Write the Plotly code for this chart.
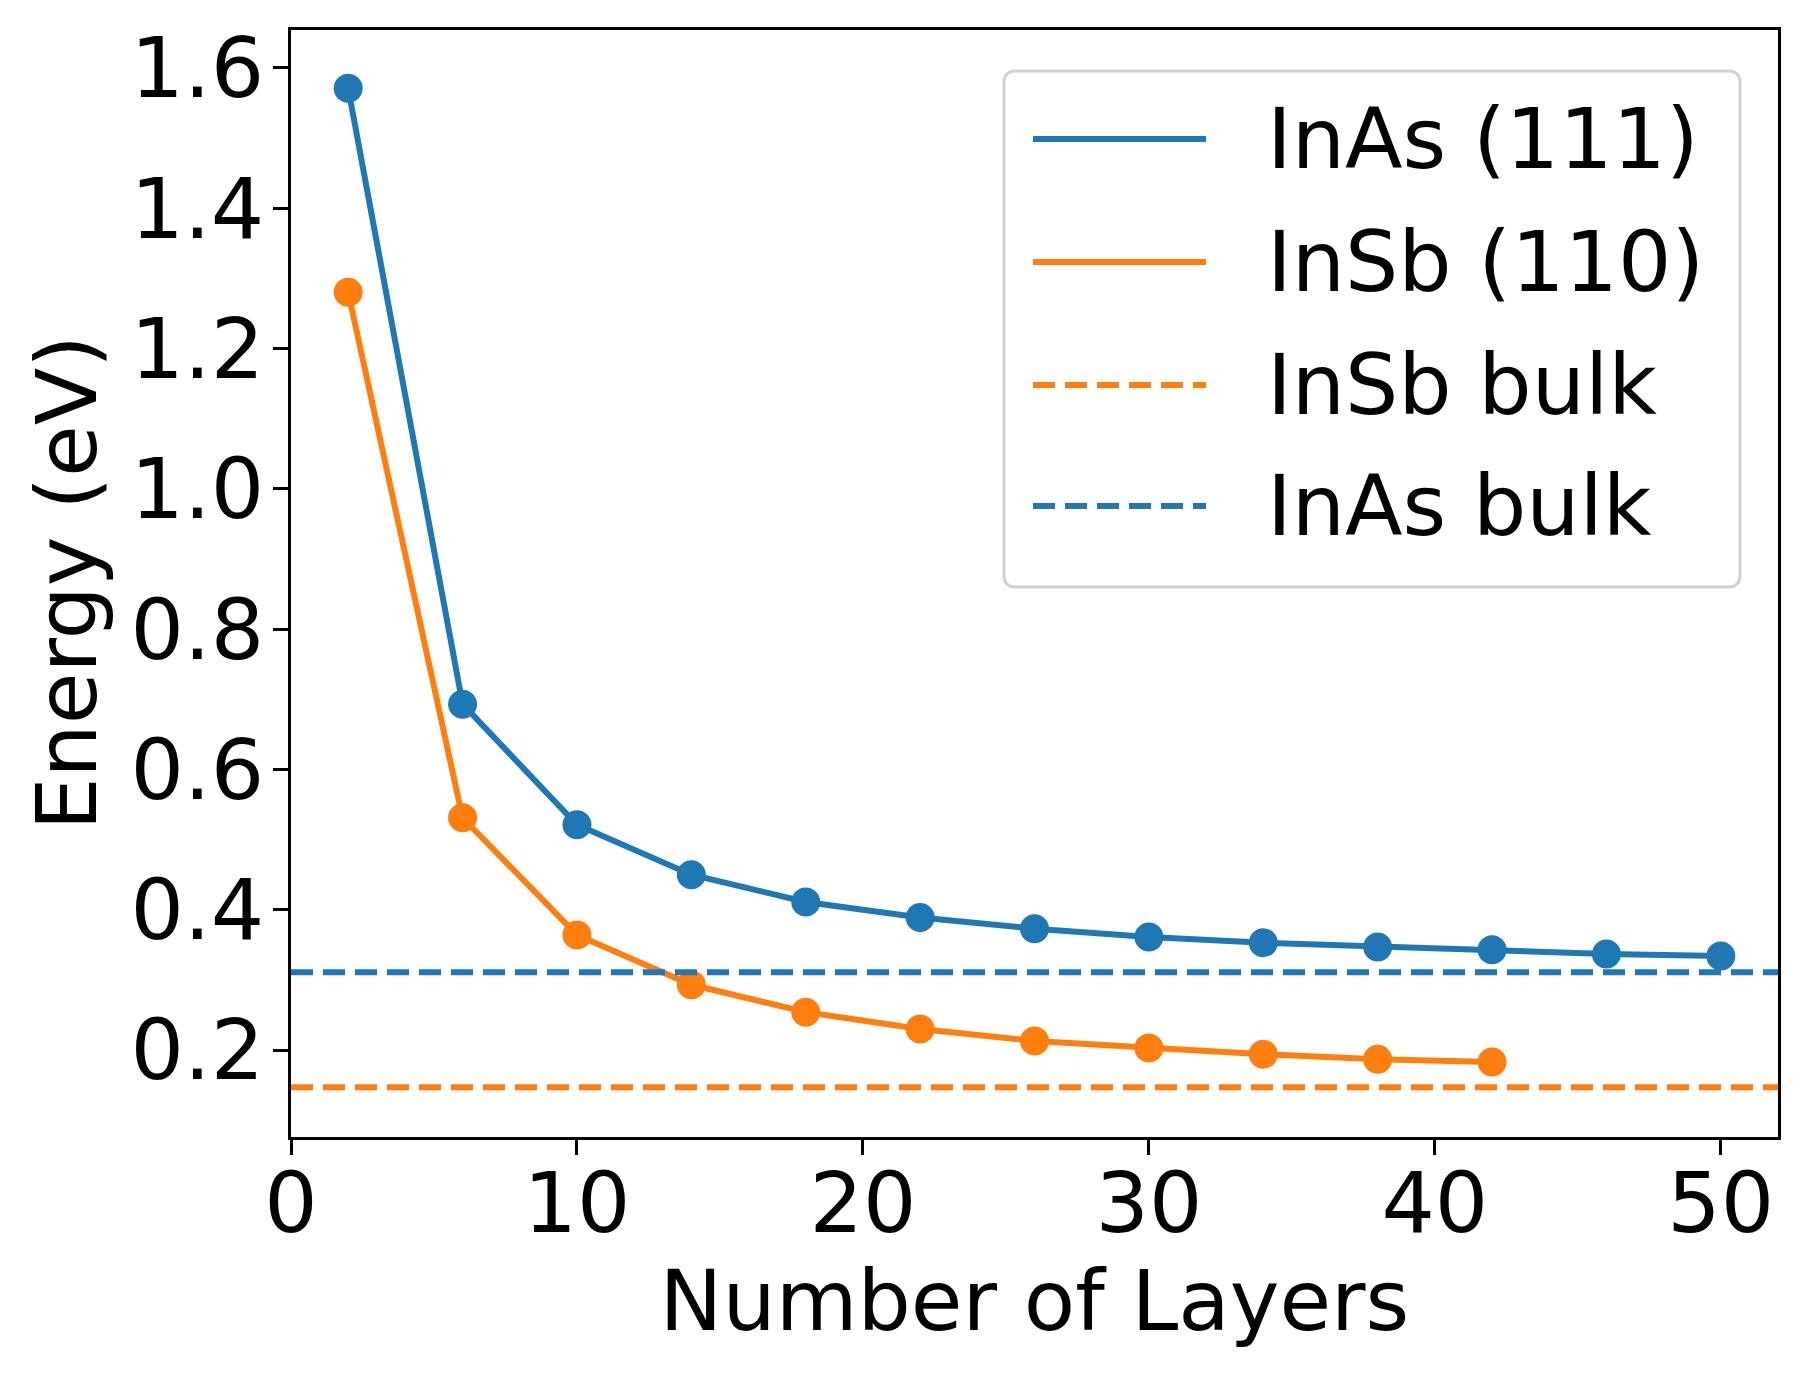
import plotly.graph_objects as go

# band gap vs slab thickness
layers_inas = [2, 6, 10, 14, 18, 22, 26, 30, 34, 38, 42, 46, 50]
gap_inas = [1.571, 0.693, 0.521, 0.450, 0.411, 0.389, 0.373, 0.361, 0.353, 0.347, 0.343, 0.337, 0.334]

layers_insb = [2, 6, 10, 14, 18, 22, 26, 30, 34, 38, 42]
gap_insb = [1.280, 0.531, 0.364, 0.293, 0.254, 0.230, 0.213, 0.203, 0.194, 0.187, 0.183]

bulk_names = ["InSb bulk", "InAs bulk"]
bulk_gaps = [0.147, 0.311]

y_ticks = [0.2, 0.4, 0.6, 0.8, 1.0, 1.2, 1.4, 1.6]
x_ticks = [0, 10, 20, 30, 40, 50]

BLUE = "#1f77b4"
ORANGE = "#ff7f0e"
FONT = "DejaVu Sans"
FS = 84

# page body has an 8px margin, so the figure is a bit smaller than the window
OFF = 8
W, H = 1807 - 2 * OFF, 1376 - 2 * OFF
ML, MT = 291 - OFF, 30 - OFF
MR = OFF + W - 1778
MB = OFF + H - 1137
PW = W - ML - MR
PH = H - MT - MB


def px2paper(px, py):
    # screen pixel -> paper coords
    return (px - OFF - ML) / PW, (OFF + H - MB - py) / PH


fig = go.Figure()

fig.add_trace(go.Scatter(
    x=layers_inas, y=gap_inas, mode="lines+markers", name="InAs (111)",
    line=dict(color=BLUE, width=6), marker=dict(color=BLUE, size=29),
    showlegend=False,
))
fig.add_trace(go.Scatter(
    x=layers_insb, y=gap_insb, mode="lines+markers", name="InSb (110)",
    line=dict(color=ORANGE, width=6), marker=dict(color=ORANGE, size=29),
    showlegend=False,
))

bulk_colors = [ORANGE, BLUE]
for name, val, col in zip(bulk_names, bulk_gaps, bulk_colors):
    fig.add_shape(type="line", xref="paper", yref="y", x0=0, x1=1, y0=val, y1=val,
                  line=dict(color=col, width=6, dash="22px,10px"), layer="above")

# --- legend box drawn like matplotlib's ---
x0, y1 = px2paper(1004, 71)
x1, y0 = px2paper(1740, 587)
rx, ry = 12 / PW, 12 / PH
path = (f"M {x0+rx},{y0} L {x1-rx},{y0} Q {x1},{y0} {x1},{y0+ry} "
        f"L {x1},{y1-ry} Q {x1},{y1} {x1-rx},{y1} L {x0+rx},{y1} "
        f"Q {x0},{y1} {x0},{y1-ry} L {x0},{y0+ry} Q {x0},{y0} {x0+rx},{y0} Z")
fig.add_shape(type="path", xref="paper", yref="paper", path=path,
              line=dict(color="rgba(204,204,204,0.9)", width=3),
              fillcolor="rgba(255,255,255,0.8)", layer="above")

legend_items = [
    ("InAs (111)", BLUE, "solid"),
    ("InSb (110)", ORANGE, "solid"),
    ("InSb bulk", ORANGE, "22px,10px"),
    ("InAs bulk", BLUE, "22px,10px"),
]
row_y = [139, 262, 385, 506]
for (label, col, dash), ry_px in zip(legend_items, row_y):
    lx0, ly = px2paper(1033, ry_px)
    lx1, _ = px2paper(1206, ry_px)
    fig.add_shape(type="line", xref="paper", yref="paper", x0=lx0, x1=lx1, y0=ly, y1=ly,
                  line=dict(color=col, width=6, dash=dash), layer="above")
    tx, _ = px2paper(1265, ry_px)
    fig.add_annotation(x=tx, y=ly, xref="paper", yref="paper", text=label,
                       showarrow=False, xanchor="left", yanchor="middle",
                       font=dict(family=FONT, size=FS, color="black"))

# y axis title as a rotated annotation so it sits where matplotlib put it
ty_x, _ = px2paper(66, 0)
fig.add_annotation(x=ty_x, y=0.5, xref="paper", yref="paper", text="Energy (eV)",
                   textangle=-90, showarrow=False, xanchor="center", yanchor="middle",
                   font=dict(family=FONT, size=FS, color="black"))

axis_common = dict(
    showgrid=False, zeroline=False, showline=True, linecolor="black", linewidth=3,
    mirror=True, ticks="outside", ticklen=15, tickwidth=3, tickcolor="black",
    tickfont=dict(family=FONT, size=FS, color="black"),
)

fig.update_xaxes(range=[0, 52], tickvals=x_ticks, ticklabelstandoff=-24,
                 title=dict(text="Number of Layers", font=dict(family=FONT, size=FS, color="black"),
                            standoff=2),
                 **axis_common)
fig.update_yaxes(range=[0.076, 1.654], tickvals=y_ticks, tickformat=".1f", ticklabelstandoff=-8,
                 **axis_common)

fig.update_layout(
    width=W, height=H,
    margin=dict(l=ML, r=MR, t=MT, b=MB, autoexpand=False),
    plot_bgcolor="white", paper_bgcolor="white",
    font=dict(family=FONT, size=FS, color="black"),
)

fig.write_html("out.html")
